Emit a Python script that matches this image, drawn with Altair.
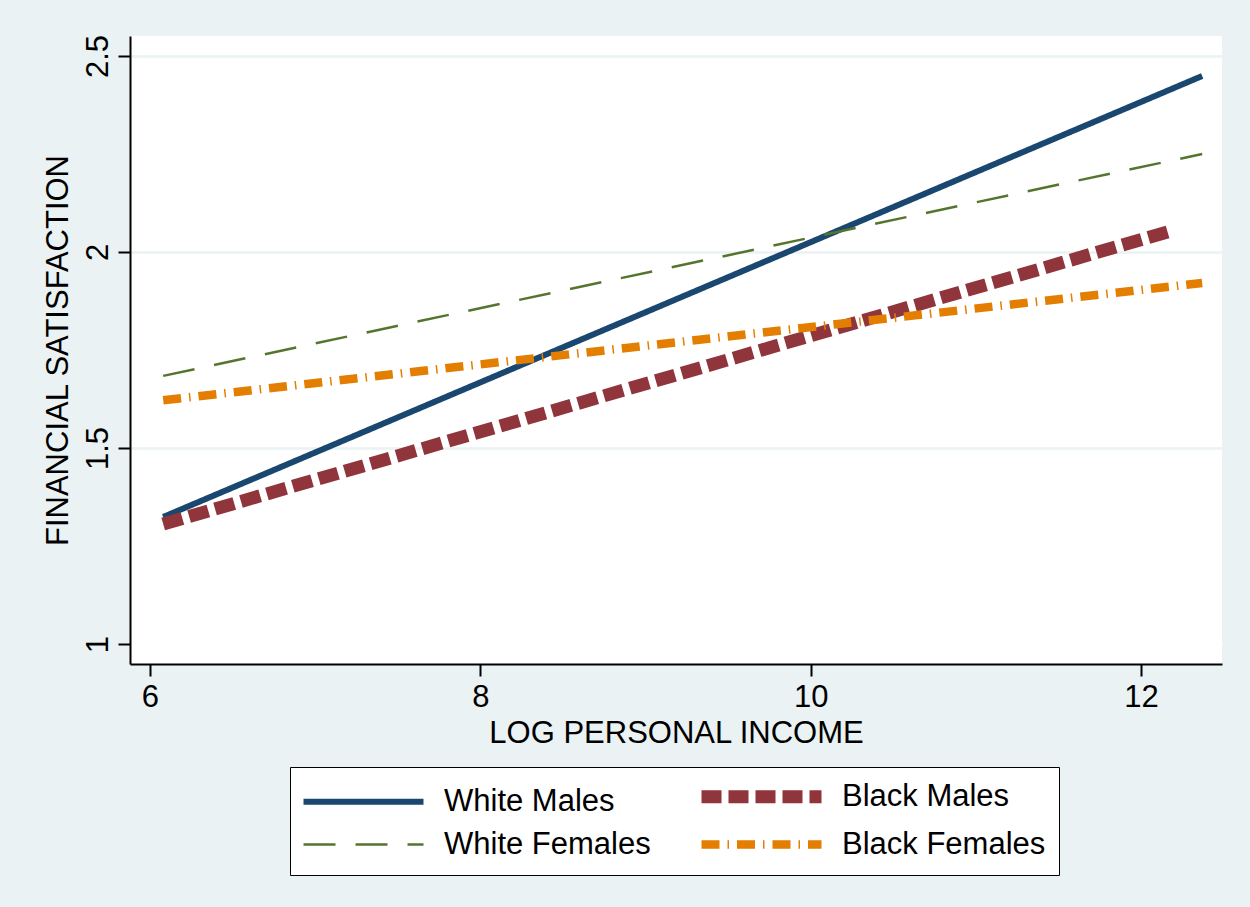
import altair as alt
import pandas as pd

groups = ["White Males", "Black Males", "White Females", "Black Females"]
x_start = [6.08, 6.08, 6.08, 6.08]
x_end = [12.37, 12.20, 12.37, 12.37]
y_start = [1.324, 1.306, 1.684, 1.622]
y_end = [2.449, 2.056, 2.250, 1.921]

colors = ["#1A476F", "#90353B", "#55752F", "#E37E00"]
dashes = [[1, 0], [20, 7], [32, 20], [18, 8, 1.5, 8]]
widths = [6, 13, 2.5, 8.5]

x_ticks = [6, 8, 10, 12]
y_ticks = [1, 1.5, 2, 2.5]

rows = []
for g, xs, xe, ys, ye in zip(groups, x_start, x_end, y_start, y_end):
    rows.append({"group": g, "income": xs, "sat": ys, "order": 0})
    rows.append({"group": g, "income": xe, "sat": ye, "order": 1})
df = pd.DataFrame(rows)

FONT = "Liberation Sans"
BG = "#EAF2F3"

chart = alt.Chart(df).mark_line(strokeCap="butt", clip=False).encode(
    x=alt.X("income:Q",
            scale=alt.Scale(domain=[5.879, 12.49], nice=False, zero=False),
            axis=alt.Axis(values=x_ticks, title="LOG PERSONAL INCOME", grid=False,
                          labelFontSize=31, titleFontSize=31, labelFont=FONT, titleFont=FONT,
                          titleFontWeight="normal", labelColor="black", titleColor="black",
                          domainColor="black", domainWidth=2, tickColor="black", tickWidth=2,
                          tickSize=12, labelPadding=6, titlePadding=6, labelFlush=False)),
    y=alt.Y("sat:Q",
            scale=alt.Scale(domain=[0.949, 2.551], nice=False, zero=False),
            axis=alt.Axis(values=y_ticks, title="FINANCIAL SATISFACTION",
                          labelExpr="datum.value + ''",
                          grid=True,
                          gridColor={"condition": {"test": "datum.value === 1", "value": "white"}, "value": BG},
                          gridWidth=2.5,
                          labelAngle=-90, labelAlign="center", labelBaseline="alphabetic",
                          labelFontSize=31, titleFontSize=31, labelFont=FONT, titleFont=FONT,
                          titleFontWeight="normal", labelColor="black", titleColor="black",
                          domainColor="black", domainWidth=2, tickColor="black", tickWidth=2,
                          tickSize=12, labelPadding=11, titlePadding=8, labelFlush=False)),
    color=alt.Color("group:N",
                    scale=alt.Scale(domain=groups, range=colors),
                    legend=alt.Legend(orient="none", direction="horizontal",
                                      legendX=160, legendY=731, columns=2,
                                      symbolType="M-6,0H6", symbolSize=400, symbolOffset=44,
                                      title=None,
                                      labelFontSize=31, labelFont=FONT, labelColor="black",
                                      labelOffset=64, columnPadding=24, rowPadding=4,
                                      padding=13, strokeColor="black", fillColor="white",
                                      labelLimit=400)),
    strokeDash=alt.StrokeDash("group:N", scale=alt.Scale(domain=groups, range=dashes)),
    strokeWidth=alt.StrokeWidth("group:N", scale=alt.Scale(type="ordinal", domain=groups, range=widths)),
    order="order:Q",
).properties(
    width=1092, height=628,
    autosize=alt.AutoSizeParams(type="none"),
    padding={"left": 130, "top": 36, "right": 28, "bottom": 243},
    background=BG,
).configure_view(fill="white", stroke=None)

chart.save("out.html", embed_options={"renderer": "svg", "actions": False})
